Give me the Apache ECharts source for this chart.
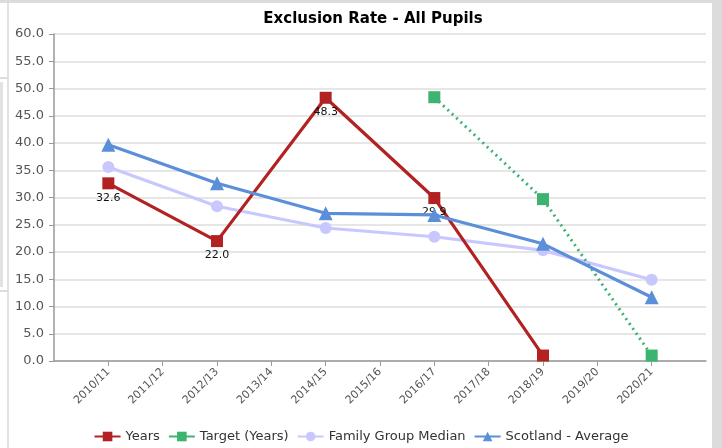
<!DOCTYPE html>
<html><head><meta charset="utf-8">
<script src="https://cdn.jsdelivr.net/npm/echarts@6/dist/echarts.min.js"></script>
<style>html,body{margin:0;padding:0;background:#fff}#c{width:722px;height:448px}</style>
</head><body><div id="c"></div>
<script>
const categories = ['', '2010/11','2011/12','2012/13','2013/14','2014/15','2015/16','2016/17','2017/18','2018/19','2019/20','2020/21', ''];
const years =        [null, 32.6, null, 22.0, null, 48.3, null, 29.9, null, 1.0, null, null, null];
const yearsLabels =  [false, true, false, true, false, true, false, true, false, false, false, false, false];
const target =       [null, null, null, null, null, null, null, 48.4, null, 29.7, null, 1.0, null];
const familyMedian = [null, 35.6, null, 28.4, null, 24.4, null, 22.8, null, 20.3, null, 14.9, null];
const scotlandAvg =  [null, 39.7, null, 32.6, null, 27.1, null, 26.8, null, 21.5, null, 11.7, null];

const FONT = 'DejaVu Sans';
const chart = echarts.init(document.getElementById('c'), null, {renderer:'canvas'});
chart.setOption({
  animation: false,
  backgroundColor: '#fff',
  textStyle: {fontFamily: FONT},
  graphic: [
    {type:'rect', shape:{x:0,y:0,width:722,height:3}, style:{fill:'#dcdcdc'}, silent:true},
    {type:'rect', shape:{x:712,y:0,width:10,height:448}, style:{fill:'#dcdcdc'}, silent:true},
    {type:'rect', shape:{x:7,y:3,width:2,height:445}, style:{fill:'#e2e2e2'}, silent:true},
    {type:'rect', shape:{x:0,y:77,width:8,height:2}, style:{fill:'#dcdcdc'}, silent:true},
    {type:'rect', shape:{x:0,y:82,width:3,height:205}, style:{fill:'#e2e2e2'}, silent:true},
    {type:'rect', shape:{x:0,y:290,width:8,height:2}, style:{fill:'#dcdcdc'}, silent:true}
  ],
  title: {
    text: 'Exclusion Rate - All Pupils',
    left: 368, textAlign: 'center', top: 7,
    textStyle: {fontFamily: FONT, fontWeight: 'bold', fontSize: 15, color: '#000'}
  },
  legend: {
    bottom: 0, left: 'center',
    itemWidth: 26, itemHeight: 12, itemGap: 8,
    textStyle: {fontFamily: FONT, fontSize: 13, color: '#333'},
    data: [
      {name: 'Years'},
      {name: 'Target (Years)', lineStyle: {type: 'solid'}},
      {name: 'Family Group Median'},
      {name: 'Scotland - Average'}
    ]
  },
  grid: {left: 54, right: 16, top: 34, bottom: 87, containLabel: false},
  xAxis: {
    type: 'category', data: categories, boundaryGap: false,
    axisLine: {lineStyle: {color: '#999', width: 1.5}},
    axisTick: {length: 5, lineStyle: {color: '#999'}, interval: (i, v) => v !== ''},
    axisLabel: {interval: 0, rotate: 45, fontSize: 11, color: '#555', margin: 9, fontFamily: FONT},
    splitLine: {show: false}
  },
  yAxis: {
    type: 'value', min: 0, max: 60, interval: 5,
    axisLine: {show: true, lineStyle: {color: '#999', width: 1.5}},
    axisTick: {show: true, length: 5, lineStyle: {color: '#999'}},
    axisLabel: {formatter: v => v.toFixed(1), fontSize: 13, color: '#555', margin: 10, fontFamily: FONT},
    splitLine: {lineStyle: {color: '#dedede', width: 1.5}}
  },
  series: [
    {
      name: 'Years', type: 'line', connectNulls: true, z: 4,
      symbol: 'rect', symbolSize: 12,
      itemStyle: {color: '#b22222'},
      lineStyle: {color: '#b22222', width: 3.2},
      data: years.map((v, i) => ({value: v, label: {show: yearsLabels[i]}})),
      label: {position: 'bottom', distance: 3, fontSize: 11, color: '#111', fontFamily: FONT,
              formatter: p => p.value == null ? '' : Number(p.value).toFixed(1)}
    },
    {
      name: 'Target (Years)', type: 'line', connectNulls: true, z: 3,
      symbol: 'rect', symbolSize: 12,
      itemStyle: {color: '#3cb371'},
      lineStyle: {color: '#3cb371', width: 3, type: [2, 4]},
      data: target
    },
    {
      name: 'Family Group Median', type: 'line', connectNulls: true, z: 2,
      symbol: 'circle', symbolSize: 12,
      itemStyle: {color: '#c8c8ff'},
      lineStyle: {color: '#c8c8ff', width: 3.2},
      data: familyMedian
    },
    {
      name: 'Scotland - Average', type: 'line', connectNulls: true, z: 5,
      symbol: 'triangle', symbolSize: 14,
      itemStyle: {color: '#5b8fd9'},
      lineStyle: {color: '#5b8fd9', width: 3.2},
      data: scotlandAvg
    }
  ]
});
</script></body></html>
